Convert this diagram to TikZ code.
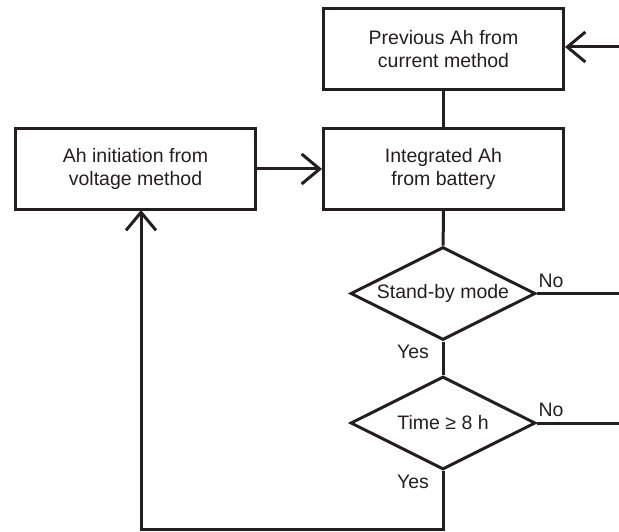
\documentclass[tikz,border=0pt]{standalone}
\usepackage{fontspec}
\setmainfont{Liberation Sans}
\usetikzlibrary{shapes.geometric,arrows.meta}
\definecolor{ink}{HTML}{231F20}
\begin{document}
\begin{tikzpicture}[x=1pt,y=-1pt,line width=3pt,
  every node/.style={text=ink,font=\fontsize{19.5}{23}\selectfont},
  box/.style={draw=ink,rectangle,minimum width=240pt,minimum height=81pt,align=center,inner sep=0pt},
  dec/.style={draw=ink,diamond,minimum width=185pt,minimum height=93pt,inner sep=0pt,aspect=2},
  lbl/.style={inner sep=0pt},
  arr/.style={draw=ink,-{Straight Barb[length=18pt,width=30pt]}},
  ln/.style={draw=ink}]
\useasboundingbox (0,0) rectangle (619,532);
\node[box] (prev) at (443.5,49) {Previous Ah from\\current method};
\node[box] (integ) at (443.5,169) {Integrated Ah\\from battery};
\node[box] (init) at (135.5,169) {Ah initiation from\\voltage method};
\node[dec] (d1) at (443,293.5) {Stand-by mode};
\node[dec] (d2) at (443,423) {Time ≥ 8 h};
\node[lbl] (no1) at (551,281) {No};
\node[lbl] (no2) at (551,410) {No};
\node[lbl] (yes1) at (413,352) {Yes};
\node[lbl] (yes2) at (413,482) {Yes};
\coordinate (inR) at (619,47);
\coordinate (out1) at (619,293.5);
\coordinate (out2) at (619,423);
\coordinate (bl) at (141,529);
\coordinate (up) at (141,210);
\draw[arr] (inR) -- (inR -| prev.east);
\draw[ln] (prev) -- (integ);
\draw[arr] (init) -- (integ);
\draw[ln] (integ) -- (d1);
\draw[ln] (d1) -- (d2);
\draw[ln] (d1.east) -- (out1);
\draw[ln] (d2.east) -- (out2);
\draw[arr] (d2.south) |- (bl) -- (up);
\end{tikzpicture}
\end{document}
